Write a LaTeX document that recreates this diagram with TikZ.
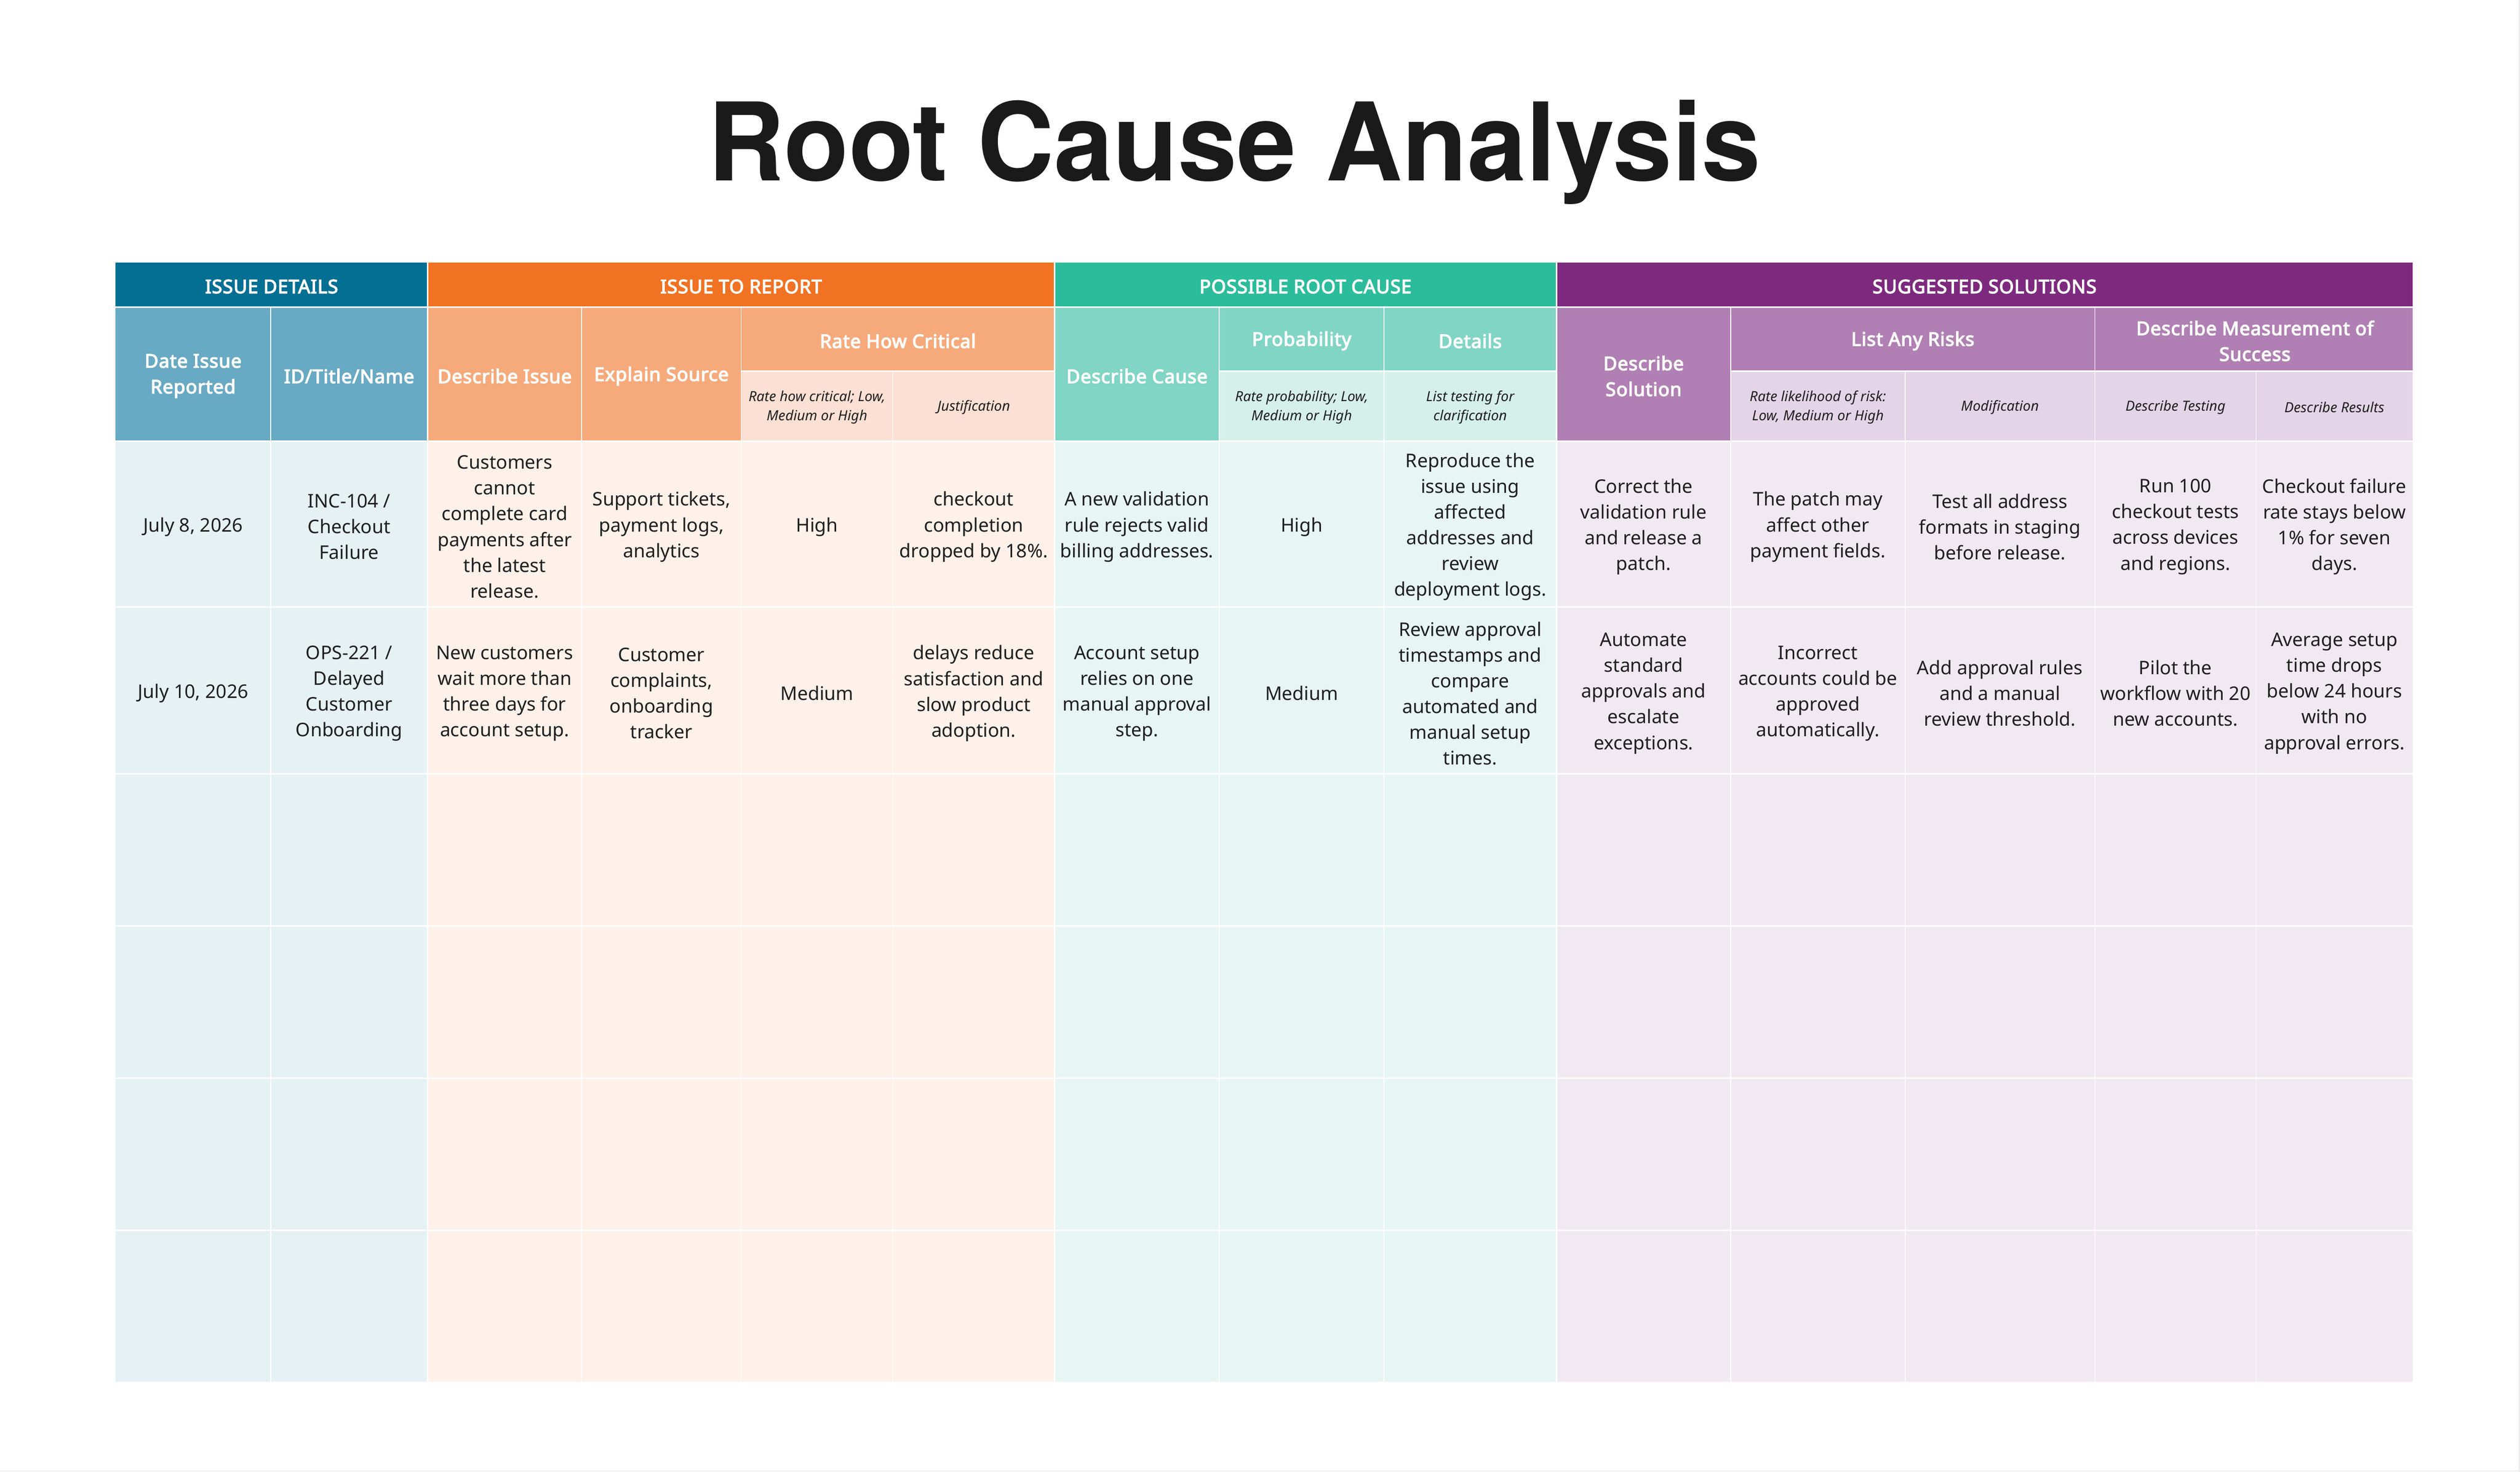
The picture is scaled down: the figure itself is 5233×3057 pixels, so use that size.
\documentclass[tikz,border=0pt]{standalone}
\usepackage{fontspec}
\setmainfont{Noto Sans}[BoldFont={Noto Sans}, BoldFeatures={FakeBold=3.6, LetterSpace=2.5}]
\newfontfamily\titlefont{TeX Gyre Heros}
\definecolor{gB}{HTML}{036F93}
\definecolor{sB}{HTML}{68A9C3}
\definecolor{dB}{HTML}{E6F1F4}
\definecolor{gO}{HTML}{F07222}
\definecolor{sO}{HTML}{F6AA7B}
\definecolor{lO}{HTML}{FBE0D3}
\definecolor{dO}{HTML}{FDF1EA}
\definecolor{gG}{HTML}{2BBC9B}
\definecolor{sG}{HTML}{80D5C4}
\definecolor{lG}{HTML}{D5F0EB}
\definecolor{dG}{HTML}{E8F6F3}
\definecolor{gP}{HTML}{7D2A7E}
\definecolor{sP}{HTML}{B07FB3}
\definecolor{lP}{HTML}{E4D4E7}
\definecolor{dP}{HTML}{F1E9F2}
\definecolor{txt}{HTML}{1F1F1F}
\definecolor{ttl}{HTML}{1A1A1A}
\definecolor{edge}{HTML}{EDEDED}
\tikzset{
  dtxt/.style={text=txt, align=center, font=\fontsize{7.8}{10.7}\selectfont, inner sep=0pt},
  htxt/.style={text=white, align=center, font=\fontsize{7.8}{10.7}\selectfont\bfseries, inner sep=0pt},
  itxt/.style={text=txt, align=center, font=\fontsize{5.8}{8}\selectfont\itshape, inner sep=0pt},
  hline/.style={draw=white, line width=0.6pt},
  vline/.style={draw=white, line width=0.35pt},
}
\begin{document}
\begin{tikzpicture}[x=0.2pt,y=-0.2pt]
\useasboundingbox[fill=white] (0,0) rectangle (5233,3057);
\draw[edge, line width=0.6pt] (5231,0) -- (5231,3057);
\draw[edge, line width=0.6pt] (0,3055) -- (5233,3055);

% title
\node[anchor=base, text=ttl, font=\titlefont\fontsize{45}{50}\selectfont\bfseries, inner sep=0pt] (title) at (2563,375) {\scalebox{0.98}[1]{Root Cause Analysis}};

% group header fills
\fill[gB] (240,545) rectangle (888,638);
\fill[gO] (888,545) rectangle (2190,638);
\fill[gG] (2190,545) rectangle (3232,638);
\fill[gP] (3232,545) rectangle (5010,638);
% sub header fills
\fill[sB] (240,638) rectangle (888,916);
\fill[sO] (888,638) rectangle (2190,916);
\fill[lO] (1539,771) rectangle (2190,916);
\fill[sG] (2190,638) rectangle (3232,916);
\fill[lG] (2532,771) rectangle (3232,916);
\fill[sP] (3232,638) rectangle (5010,916);
\fill[lP] (3594,771) rectangle (5010,916);
% data fills
\fill[dB] (240,916) rectangle (888,2870);
\fill[dO] (888,916) rectangle (2190,2870);
\fill[dG] (2190,916) rectangle (3232,2870);
\fill[dP] (3232,916) rectangle (5010,2870);

% white grid lines
\foreach \y in {638,916,1261,1607,1923,2239,2555}
  \draw[hline] (240,\y) -- (5010,\y);
\draw[hline] (1539,771) -- (2190,771);
\draw[hline] (2532,771) -- (3232,771);
\draw[hline] (3594,771) -- (5010,771);
\foreach \x in {888,2190,3232}
  \draw[hline] (\x,545) -- (\x,2870);
\foreach \x in {562,1208,1539,2532,2874,3594,4350}
  \draw[vline] (\x,638) -- (\x,2870);
\foreach \x in {1854,3956,4685}
  \draw[vline] (\x,771) -- (\x,2870);

% group headers
\node[htxt] (gh1) at (564,595) {ISSUE DETAILS};
\node[htxt] (gh2) at (1539,595) {ISSUE TO REPORT};
\node[htxt] (gh3) at (2711,595) {POSSIBLE ROOT CAUSE};
\node[htxt] (gh4) at (4121,595) {SUGGESTED SOLUTIONS};

% column headers (full height)
\node[htxt] (h1) at (401,781) {Date Issue\\Reported};
\node[htxt] (h2) at (725,781) {ID/Title/Name};
\node[htxt] (h3) at (1048,781) {Describe Issue};
\node[htxt] (h4) at (1373.5,781) {Explain Source};
\node[htxt] (h7) at (2361,781) {Describe Cause};
\node[htxt] (h10) at (3413,781) {Describe\\Solution};
% upper sub headers
\node[htxt] (h56) at (1864.5,708) {Rate How Critical};
\node[htxt] (h8) at (2703,708) {Probability};
\node[htxt] (h9) at (3053,708) {Details};
\node[htxt] (h1112) at (3972,708) {List Any Risks};
\node[htxt] (h1314) at (4682.5,708) {Describe Measurement of\\Success};
% lower sub headers (italic)
\node[itxt] (s5) at (1696.5,846) {Rate how critical; Low,\\Medium or High};
\node[itxt] (s6) at (2022,846) {Justification};
\node[itxt] (s8) at (2703,846) {Rate probability; Low,\\Medium or High};
\node[itxt] (s9) at (3053,846) {List testing for\\clarification};
\node[itxt] (s11) at (3775,846) {Rate likelihood of risk:\\Low, Medium or High};
\node[itxt] (s12) at (4153,846) {Modification};
\node[itxt] (s13) at (4517.5,846) {Describe Testing};
\node[itxt] (s14) at (4847.5,846) {Describe Results};

% row 1
\node[dtxt] (a1) at (401,1094) {July 8, 2026};
\node[dtxt] (a2) at (725,1094) {INC-104 /\\Checkout\\Failure};
\node[dtxt] (a3) at (1048,1094) {Customers\\cannot\\complete card\\payments after\\the latest\\release.};
\node[dtxt] (a4) at (1373.5,1094) {Support tickets,\\payment logs,\\analytics};
\node[dtxt] (a5) at (1696.5,1094) {High};
\node[dtxt] (a6) at (2022,1094) {checkout\\completion\\dropped by 18\%.};
\node[dtxt] (a7) at (2361,1094) {A new validation\\rule rejects valid\\billing addresses.};
\node[dtxt] (a8) at (2703,1094) {High};
\node[dtxt] (a9) at (3053,1094) {Reproduce the\\issue using\\affected\\addresses and\\review\\deployment logs.};
\node[dtxt] (a10) at (3413,1094) {Correct the\\validation rule\\and release a\\patch.};
\node[dtxt] (a11) at (3775,1094) {The patch may\\affect other\\payment fields.};
\node[dtxt] (a12) at (4153,1094) {Test all address\\formats in staging\\before release.};
\node[dtxt] (a13) at (4517.5,1094) {Run 100\\checkout tests\\across devices\\and regions.};
\node[dtxt] (a14) at (4847.5,1094) {Checkout failure\\rate stays below\\1\% for seven\\days.};

% row 2
\node[dtxt] (b1) at (401,1440) {July 10, 2026};
\node[dtxt] (b2) at (725,1440) {OPS-221 /\\Delayed\\Customer\\Onboarding};
\node[dtxt] (b3) at (1048,1440) {New customers\\wait more than\\three days for\\account setup.};
\node[dtxt] (b4) at (1373.5,1440) {Customer\\complaints,\\onboarding\\tracker};
\node[dtxt] (b5) at (1696.5,1440) {Medium};
\node[dtxt] (b6) at (2022,1440) {delays reduce\\satisfaction and\\slow product\\adoption.};
\node[dtxt] (b7) at (2361,1440) {Account setup\\relies on one\\manual approval\\step.};
\node[dtxt] (b8) at (2703,1440) {Medium};
\node[dtxt] (b9) at (3053,1440) {Review approval\\timestamps and\\compare\\automated and\\manual setup\\times.};
\node[dtxt] (b10) at (3413,1440) {Automate\\standard\\approvals and\\escalate\\exceptions.};
\node[dtxt] (b11) at (3775,1440) {Incorrect\\accounts could be\\approved\\automatically.};
\node[dtxt] (b12) at (4153,1440) {Add approval rules\\and a manual\\review threshold.};
\node[dtxt] (b13) at (4517.5,1440) {Pilot the\\workflow with 20\\new accounts.};
\node[dtxt] (b14) at (4847.5,1440) {Average setup\\time drops\\below 24 hours\\with no\\approval errors.};
\end{tikzpicture}
\end{document}
